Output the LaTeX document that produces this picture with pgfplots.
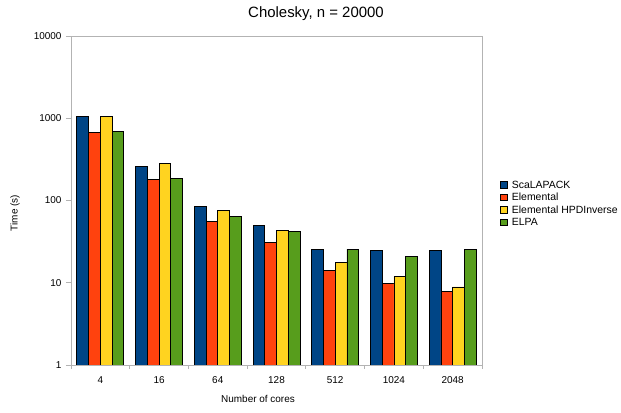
\documentclass[border=0pt]{standalone}
\usepackage{fontspec}
\setmainfont{Liberation Sans}
\usepackage{pgfplots}
\pgfplotsset{compat=1.18}
\definecolor{cScal}{HTML}{004586}
\definecolor{cElem}{HTML}{FF420E}
\definecolor{cHPD}{HTML}{FFD320}
\definecolor{cELPA}{HTML}{579D1C}
\definecolor{axgray}{HTML}{B3B3B3}
\begin{document}
\begin{tikzpicture}
\useasboundingbox (0bp,0bp) rectangle (621bp,413bp);
\begin{axis}[
  at={(71bp,48bp)}, anchor=south west,
  scale only axis, width=411bp, height=329bp,
  ymode=log, ymin=1, ymax=10000,
  xmin=-0.5, xmax=6.5,
  ybar=0pt, bar width=0.2,
  ytick={1,10,100,1000,10000},
  yticklabels={1,10,100,1000,10000},
  yminorticks=false,
  xtick={0,1,2,3,4,5,6},
  xticklabels={4,16,64,128,512,1024,2048},
  minor xtick={-0.5,0.5,1.5,2.5,3.5,4.5,5.5,6.5},
  xtick style={draw=none},
  minor x tick style={draw=axgray, line width=0.8bp},
  minor tick length=4bp,
  ytick style={draw=axgray, line width=0.8bp},
  major tick length=5bp,
  tick align=outside,
  tick pos=left,
  axis line style={draw=axgray, line width=0.8bp},
  ticklabel style={font=\fontsize{10}{12}\selectfont},
  /pgf/number format/assume math mode=true,
  yticklabel style={xshift=-1bp},
  xticklabel style={yshift=-3bp},
  legend style={at={(1,0.49)}, anchor=west, xshift=18bp, draw=none, fill=none,
    font=\fontsize{10.5}{12}\selectfont, row sep=-0.5bp, inner sep=0pt},
  legend cell align=left,
  legend image code/.code={\draw[#1, line width=0.6bp] (0bp,-3bp) rectangle (6.5bp,3.5bp); \path (9bp,0bp);},
]
\addplot[fill=cScal, draw=black, line width=0.8bp, bar shift=-0.3] coordinates {(0,1040) (1,262) (2,85) (3,50) (4,25.7) (5,24.5) (6,24.5)};
\addplot[fill=cElem, draw=black, line width=0.8bp, bar shift=-0.1] coordinates {(0,672) (1,180) (2,55) (3,30.6) (4,14) (5,9.9) (6,7.9)};
\addplot[fill=cHPD, draw=black, line width=0.8bp, bar shift=0.1] coordinates {(0,1045) (1,279) (2,76) (3,43) (4,17.8) (5,11.9) (6,8.9)};
\addplot[fill=cELPA, draw=black, line width=0.8bp, bar shift=0.3] coordinates {(0,683) (1,186) (2,64) (3,42.5) (4,25.7) (5,20.9) (6,25.5)};
\legend{ScaLAPACK, Elemental, Elemental HPDInverse, ELPA}
\end{axis}
\node[font=\fontsize{15}{18}\selectfont] at (316bp,399bp) {Cholesky, n = 20000};
\node[font=\fontsize{10}{12}\selectfont] at (258bp,14bp) {Number of cores};
\node[font=\fontsize{10}{12}\selectfont, rotate=90] at (15bp,200bp) {Time (s)};
\end{tikzpicture}
\end{document}
